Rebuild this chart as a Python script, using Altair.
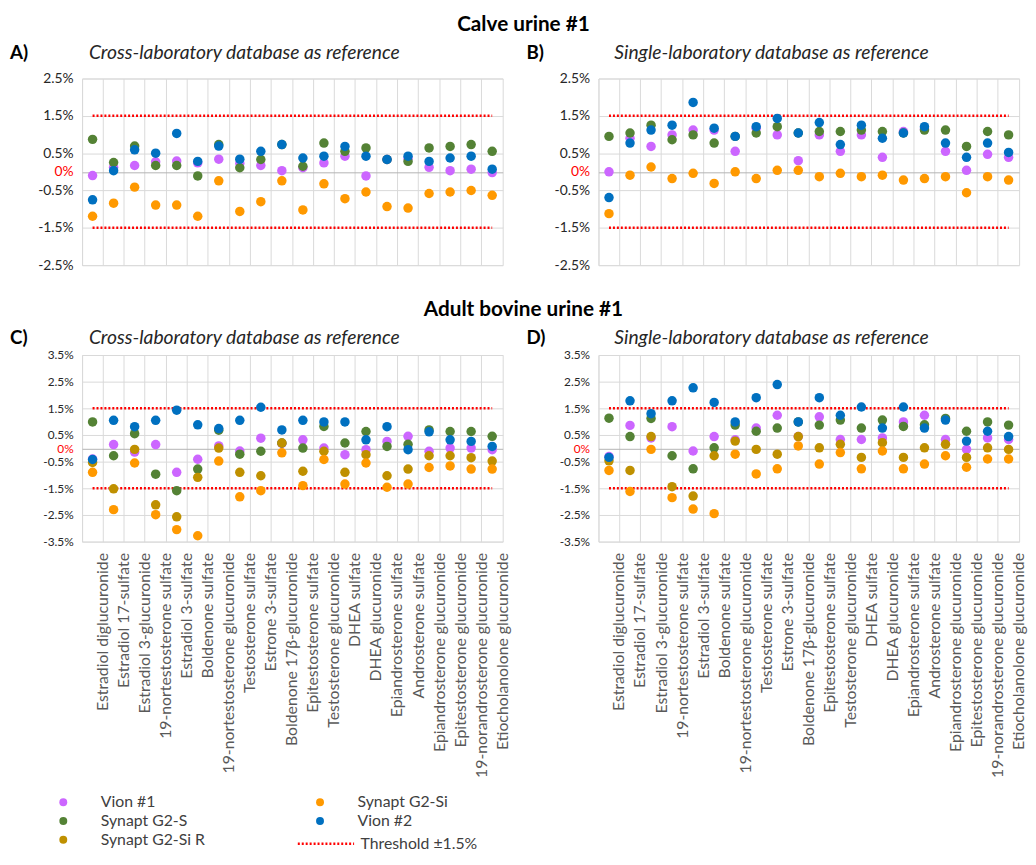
import altair as alt
import pandas as pd

CATEGORIES = [
    "Estradiol diglucuronide", "Estradiol 17-sulfate", "Estradiol 3-glucuronide",
    "19-nortestosterone sulfate", "Estradiol 3-sulfate", "Boldenone sulfate",
    "19-nortestosterone glucuronide", "Testosterone sulfate", "Estrone 3-sulfate",
    "Boldenone 17β-glucuronide", "Epitestosterone sulfate", "Testosterone glucuronide",
    "DHEA sulfate", "DHEA glucuronide", "Epiandrosterone sulfate", "Androsterone sulfate",
    "Epiandrosterone glucuronide", "Epitestosterone glucuronide",
    "19-norandrosterone glucuronide", "Etiocholanolone glucuronide",
]

# drawing order (later on top) and legend order (column-major, 2 columns)
SERIES = ["Vion #1", "Synapt G2-S", "Synapt G2-Si R", "Synapt G2-Si", "Vion #2"]
COLORS = ["#CC66FF", "#548235", "#BF9000", "#FF9900", "#0070C0"]
THRESHOLD = 1.5
THRESHOLD_LABEL = "Threshold ±1.5%"

# Panel A - Calve urine #1, cross-laboratory database
A_VION1 = [-0.10, 0.12, 0.17, 0.27, 0.29, 0.24, 0.34, 0.23, 0.17, 0.03, 0.11, 0.24, 0.42, -0.11, 0.33, 0.35, 0.12, 0.03, 0.07, -0.02]
A_G2S = [0.87, 0.25, 0.69, 0.17, 0.17, -0.11, 0.73, 0.11, 0.33, 0.73, 0.15, 0.77, 0.55, 0.64, 0.33, 0.28, 0.64, 0.68, 0.73, 0.55]
A_G2SI = [-1.19, -0.84, -0.41, -0.89, -0.89, -1.19, -0.24, -1.06, -0.80, -0.24, -1.02, -0.32, -0.72, -0.54, -0.93, -0.97, -0.58, -0.54, -0.50, -0.63]
A_VION2 = [-0.75, 0.03, 0.59, 0.50, 1.03, 0.28, 0.69, 0.34, 0.55, 0.73, 0.37, 0.42, 0.68, 0.42, 0.33, 0.42, 0.28, 0.37, 0.42, 0.07]

# Panel B - Calve urine #1, single-laboratory database
B_VION1 = [0.00, 0.90, 0.68, 0.99, 1.12, 1.12, 0.55, 1.17, 0.99, 0.30, 0.99, 0.55, 0.99, 0.39, 1.08, 1.15, 0.55, 0.04, 0.47, 0.39]
B_G2S = [0.95, 1.04, 1.25, 0.86, 0.99, 0.77, 0.95, 1.04, 1.21, 1.04, 1.08, 1.08, 1.12, 1.08, 1.04, 1.12, 1.12, 0.68, 1.08, 0.99]
B_G2SI = [-1.12, -0.09, 0.13, -0.18, -0.04, -0.31, 0.00, -0.18, 0.04, 0.04, -0.13, -0.04, -0.13, -0.09, -0.22, -0.18, -0.13, -0.56, -0.13, -0.22]
B_VION2 = [-0.69, 0.77, 1.12, 1.25, 1.86, 1.17, 0.95, 1.21, 1.43, 1.04, 1.32, 0.73, 1.25, 0.90, 1.04, 1.21, 0.77, 0.39, 0.77, 0.52]

# Panel C - Adult bovine urine #1, cross-laboratory database
C_VION1 = [-0.40, 0.14, -0.14, 0.14, -0.90, -0.41, 0.09, -0.10, 0.38, 0.18, 0.32, 0.01, -0.24, -0.05, 0.26, 0.45, -0.11, 0.01, 0.01, -0.05]
C_G2S = [0.99, -0.28, 0.55, -0.97, -1.59, -0.78, 0.68, -0.22, -0.11, 0.20, 0.01, 0.82, 0.20, 0.63, 0.07, 0.15, 0.69, 0.63, 0.63, 0.45]
C_G2SIR = [-0.53, -1.52, -0.04, -2.12, -2.57, -1.09, 0.01, -0.90, -1.03, 0.20, -0.86, -0.11, -0.90, -0.24, -1.03, -0.78, -0.28, -0.28, -0.35, -0.48]
C_G2SI = [-0.90, -2.30, -0.55, -2.49, -3.05, -3.28, -0.48, -1.82, -1.59, -0.17, -1.40, -0.42, -1.34, -0.55, -1.46, -1.34, -0.72, -0.66, -0.78, -0.78]
C_VION2 = [-0.42, 1.05, 0.81, 1.05, 1.43, 0.88, 0.74, 1.05, 1.54, 0.69, 1.05, 0.99, 0.99, 0.32, 0.81, -0.05, 0.62, 0.32, 0.26, 0.07]

# Panel D - Adult bovine urine #1, single-laboratory database
D_VION1 = [-0.31, 0.86, 0.39, 0.81, -0.10, 0.44, 0.32, 0.76, 1.24, 0.44, 1.18, 0.33, 0.33, 0.39, 0.99, 1.24, 0.33, -0.04, 0.39, 0.33]
D_G2S = [1.13, 0.44, 1.12, -0.28, -0.77, 0.02, 0.87, 0.64, 0.76, 0.99, 0.87, 1.06, 0.76, 1.06, 0.82, 0.88, 1.12, 0.64, 0.99, 0.87]
D_G2SIR = [-0.47, -0.83, 0.44, -1.44, -1.79, -0.28, 0.27, -0.04, -0.22, 0.44, 0.02, 0.15, -0.34, 0.21, -0.34, 0.02, 0.15, -0.34, 0.02, -0.04]
D_G2SI = [-0.83, -1.62, -0.04, -1.85, -2.28, -2.45, -0.22, -0.96, -0.77, 0.09, -0.59, -0.16, -0.77, -0.10, -0.77, -0.59, -0.28, -0.71, -0.40, -0.40]
D_VION2 = [-0.34, 1.78, 1.30, 1.78, 2.27, 1.72, 0.99, 1.90, 2.39, 0.99, 1.90, 1.24, 1.55, 0.76, 1.55, 0.76, 1.06, 0.27, 0.64, 0.44]

TICKS_TOP = [-2.5, -1.5, -0.5, 0, 0.5, 1.5, 2.5]
TICKS_BOTTOM = [-3.5, -2.5, -1.5, -0.5, 0, 0.5, 1.5, 2.5, 3.5]

FONT = "Lato"
W = 426
H = 189
GAP = 97
ROWGAP = 91
STEP = W / len(CATEGORIES)
GRID = "#d9d9d9"

Y_LABEL_EXPR = ("datum.value == 0 ? '0%' : (datum.value < 0 ? '-' : '') + "
                "format(abs(datum.value), '.1f') + '%'")


def color_legend():
    return alt.Legend(
        title=None, orient="none", legendX=-27, legendY=725, columns=2,
        symbolType="circle", symbolSize=64, symbolOpacity=1,
        labelFont=FONT, labelFontSize=16, labelColor="#404040",
        labelOffset=30, columnPadding=108, rowPadding=3, padding=0,
        gridAlign="each",
    )


def dash_legend():
    return alt.Legend(
        title=None, orient="none", legendX=217, legendY=745,
        symbolType="stroke", symbolSize=3249, symbolStrokeColor="red",
        symbolStrokeWidth=2.5, labelFont=FONT, labelFontSize=16,
        labelColor="#404040", labelOffset=5, padding=0,
    )


def make_panel(series_values, ymin, ymax, yticks, ylabel_size, letter, subtitle,
               sub_dx, head_y, section=None, section_x=0, section_y=0,
               show_labels=False):
    rows = []
    for si, s in enumerate(SERIES):
        if s not in series_values:
            continue
        for c, v in zip(CATEGORIES, series_values[s]):
            rows.append({"cat": c, "series": s, "val": v, "ord": si})
    df = pd.DataFrame(rows)

    thr = pd.DataFrame(
        [{"cat": c, "val": sign * THRESHOLD, "grp": str(sign), "lab": THRESHOLD_LABEL}
         for sign in (1, -1) for c in CATEGORIES]
    )

    xaxis = alt.Axis(
        title=None, bandPosition=0, labelOffset=STEP / 2, grid=True,
        gridColor=GRID, gridWidth=1, ticks=False, domain=False,
        labels=show_labels, labelAngle=270, labelAlign="right",
        labelBaseline="middle", labelFont=FONT, labelFontSize=16,
        labelColor="#595959", labelPadding=11, labelLimit=400,
    )
    yaxis = alt.Axis(
        title=None, values=yticks, labelExpr=Y_LABEL_EXPR,
        labelColor={"condition": {"test": "datum.value === 0", "value": "red"}, "value": "#262626"},
        gridColor={"condition": {"test": "datum.value === 0", "value": "#b3b3b3"}, "value": GRID},
        grid=True, ticks=False, domain=False, labelFont=FONT, labelFontSize=ylabel_size,
        labelPadding=9,
    )
    xscale = alt.Scale(type="band", domain=CATEGORIES, paddingInner=0, paddingOuter=0)
    yscale = alt.Scale(domain=[ymin, ymax], nice=False, zero=False)

    line = alt.Chart(thr).mark_line(color="red", strokeWidth=2.5).encode(
        x=alt.X("cat:N", sort=CATEGORIES, scale=xscale, axis=xaxis),
        y=alt.Y("val:Q", scale=yscale, axis=yaxis),
        detail="grp:N",
        strokeDash=alt.StrokeDash(
            "lab:N", scale=alt.Scale(domain=[THRESHOLD_LABEL], range=[[2, 2]]),
            legend=dash_legend(),
        ),
    )
    pts = alt.Chart(df).mark_circle(size=92, opacity=1).encode(
        x=alt.X("cat:N", sort=CATEGORIES, scale=xscale, axis=xaxis),
        y=alt.Y("val:Q", scale=yscale, axis=yaxis),
        color=alt.Color("series:N", scale=alt.Scale(domain=SERIES, range=COLORS),
                        legend=color_legend()),
        order=alt.Order("ord:Q"),
    )
    letter_t = alt.Chart(pd.DataFrame({"t": [letter]})).mark_text(
        font=FONT, fontSize=19, fontWeight="bold", align="left", baseline="middle", color="#000"
    ).encode(x=alt.value(-73), y=alt.value(head_y), text="t:N")
    sub_t = alt.Chart(pd.DataFrame({"t": [subtitle]})).mark_text(
        font=FONT, fontSize=19.5, fontStyle="italic", align="left", baseline="middle", color="#262626"
    ).encode(x=alt.value(sub_dx), y=alt.value(head_y), text="t:N")
    layers = [line, pts, letter_t, sub_t]
    if section:
        sec_t = alt.Chart(pd.DataFrame({"t": [section]})).mark_text(
            font=FONT, fontSize=21, fontWeight="bold", align="center", baseline="middle", color="#000"
        ).encode(x=alt.value(section_x), y=alt.value(section_y), text="t:N")
        layers.append(sec_t)
    return alt.layer(*layers).properties(width=W, height=H)


pA = make_panel({"Vion #1": A_VION1, "Synapt G2-S": A_G2S, "Synapt G2-Si": A_G2SI, "Vion #2": A_VION2},
                -2.5, 2.5, TICKS_TOP, 14, "A)", "Cross-laboratory database as reference",
                7, -26, section="Calve urine #1", section_x=447, section_y=-54)
pB = make_panel({"Vion #1": B_VION1, "Synapt G2-S": B_G2S, "Synapt G2-Si": B_G2SI, "Vion #2": B_VION2},
                -2.5, 2.5, TICKS_TOP, 14, "B)", "Single-laboratory database as reference",
                16, -26)
pC = make_panel({"Vion #1": C_VION1, "Synapt G2-S": C_G2S, "Synapt G2-Si R": C_G2SIR,
                 "Synapt G2-Si": C_G2SI, "Vion #2": C_VION2},
                -3.5, 3.5, TICKS_BOTTOM, 12, "C)", "Cross-laboratory database as reference",
                7, -17, section="Adult bovine urine #1", section_x=447, section_y=-45,
                show_labels=True)
pD = make_panel({"Vion #1": D_VION1, "Synapt G2-S": D_G2S, "Synapt G2-Si R": D_G2SIR,
                 "Synapt G2-Si": D_G2SI, "Vion #2": D_VION2},
                -3.5, 3.5, TICKS_BOTTOM, 12, "D)", "Single-laboratory database as reference",
                16, -17, show_labels=True)

chart = alt.concat(
    pA, pB, pC, pD, columns=2, bounds="flush",
    spacing={"row": ROWGAP, "column": GAP},
).resolve_scale(y="independent").configure_view(
    stroke=GRID, strokeWidth=1
).properties(
    padding={"left": 1, "top": 0, "right": 1, "bottom": 2}, background="white"
)

chart.save("out.html", embed_options={"renderer": "svg", "actions": False})
